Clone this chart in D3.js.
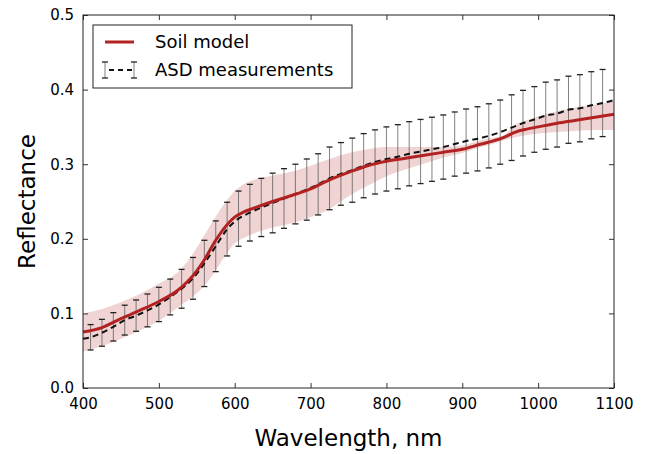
<!DOCTYPE html>
<html>
<head>
<meta charset="utf-8">
<script src="https://cdn.jsdelivr.net/npm/d3@7"></script>
<style>
  body { margin: 0; background: #fff; }
  svg { font-family: "DejaVu Sans", sans-serif; }
</style>
</head>
<body>
<svg id="chart" width="649" height="454"></svg>
<script>
// données
const modelWavelength = [400, 425, 450, 475, 500, 525, 550, 560, 575, 590, 600, 612, 625, 650, 675, 700, 725, 750, 775, 800, 825, 850, 875, 900, 925, 940, 955, 970, 985, 1000, 1025, 1050, 1075, 1100];
const modelReflectance = [0.075, 0.081, 0.093, 0.104, 0.116, 0.131, 0.157, 0.172, 0.198, 0.219, 0.229, 0.236, 0.241, 0.250, 0.258, 0.267, 0.279, 0.289, 0.298, 0.304, 0.308, 0.312, 0.316, 0.320, 0.327, 0.331, 0.336, 0.343, 0.347, 0.350, 0.355, 0.359, 0.363, 0.367];
const modelUpper = [0.100, 0.106, 0.115, 0.126, 0.140, 0.155, 0.188, 0.205, 0.230, 0.252, 0.264, 0.273, 0.279, 0.285, 0.290, 0.298, 0.307, 0.315, 0.320, 0.323, 0.323, 0.323, 0.323, 0.325, 0.332, 0.335, 0.339, 0.353, 0.359, 0.364, 0.371, 0.376, 0.380, 0.384];
const modelLower = [0.049, 0.056, 0.066, 0.077, 0.090, 0.108, 0.127, 0.137, 0.158, 0.181, 0.194, 0.201, 0.207, 0.215, 0.221, 0.229, 0.240, 0.257, 0.271, 0.284, 0.293, 0.301, 0.309, 0.315, 0.323, 0.327, 0.332, 0.336, 0.339, 0.341, 0.343, 0.345, 0.346, 0.346];

const asdWavelength = [400, 410, 425, 440, 455, 470, 485, 500, 515, 530, 545, 560, 575, 590, 605, 620, 635, 650, 665, 680, 695, 710, 725, 740, 755, 770, 785, 800, 815, 830, 845, 860, 875, 890, 905, 920, 935, 950, 965, 980, 995, 1010, 1025, 1040, 1055, 1070, 1085, 1100];
const asdMean = [0.066, 0.068, 0.074, 0.082, 0.091, 0.097, 0.104, 0.112, 0.122, 0.133, 0.147, 0.167, 0.190, 0.213, 0.227, 0.235, 0.242, 0.248, 0.254, 0.260, 0.266, 0.273, 0.281, 0.287, 0.292, 0.298, 0.303, 0.307, 0.310, 0.314, 0.317, 0.320, 0.323, 0.327, 0.331, 0.334, 0.338, 0.343, 0.349, 0.355, 0.360, 0.365, 0.368, 0.373, 0.375, 0.379, 0.382, 0.386];
const asdStd = [null, 0.017, 0.018, 0.019, 0.020, 0.021, 0.022, 0.023, 0.024, 0.026, 0.028, 0.031, 0.034, 0.036, 0.037, 0.038, 0.039, 0.040, 0.040, 0.040, 0.041, 0.041, 0.042, 0.042, 0.043, 0.043, 0.043, 0.043, 0.043, 0.043, 0.043, 0.043, 0.043, 0.043, 0.043, 0.043, 0.043, 0.043, 0.044, 0.044, 0.044, 0.045, 0.045, 0.045, 0.045, 0.045, 0.045, null];

const xTicks = [400, 500, 600, 700, 800, 900, 1000, 1100];
const yTicks = [0.0, 0.1, 0.2, 0.3, 0.4, 0.5];

const seriesNames = ["Soil model", "ASD measurements"];

// tableaux de points
const model = modelWavelength.map((w, i) => ({ w: w, r: modelReflectance[i], lo: modelLower[i], hi: modelUpper[i] }));
const asd = asdWavelength.map((w, i) => ({ w: w, m: asdMean[i], s: asdStd[i] }));

const margin = { top: 15, right: 35, bottom: 66, left: 83 };
const width = 649 - margin.left - margin.right;
const height = 454 - margin.top - margin.bottom;

const svg = d3.select("#chart");
const g = svg.append("g").attr("transform", `translate(${margin.left},${margin.top})`);

const x = d3.scaleLinear().domain([400, 1100]).range([0, width]);
const y = d3.scaleLinear().domain([0, 0.5]).range([height, 0]);

const red = "#b22222";

// bande d'incertitude du modèle
g.append("path")
  .datum(model)
  .attr("fill", red)
  .attr("fill-opacity", 0.2)
  .attr("d", d3.area()
    .x(d => x(d.w))
    .y0(d => y(d.lo))
    .y1(d => y(d.hi))
    .curve(d3.curveMonotoneX));

// barres d'erreur ASD
const bars = asd.filter(d => d.s !== null);
g.selectAll(".ebar")
  .data(bars)
  .enter()
  .append("line")
  .attr("class", "ebar")
  .attr("x1", d => x(d.w))
  .attr("x2", d => x(d.w))
  .attr("y1", d => y(d.m - d.s))
  .attr("y2", d => y(d.m + d.s))
  .attr("stroke", "#555")
  .attr("stroke-opacity", 0.75)
  .attr("stroke-width", 1);

["lo", "hi"].forEach(function(k) {
  g.selectAll(".cap-" + k)
    .data(bars)
    .enter()
    .append("line")
    .attr("class", "cap-" + k)
    .attr("x1", d => x(d.w) - 3)
    .attr("x2", d => x(d.w) + 3)
    .attr("y1", d => y(k === "lo" ? d.m - d.s : d.m + d.s))
    .attr("y2", d => y(k === "lo" ? d.m - d.s : d.m + d.s))
    .attr("stroke", "#222")
    .attr("stroke-width", 1.3);
});

// ligne pointillée ASD
g.append("path")
  .datum(asd)
  .attr("fill", "none")
  .attr("stroke", "#111")
  .attr("stroke-width", 2)
  .attr("stroke-dasharray", "6,4")
  .attr("d", d3.line().x(d => x(d.w)).y(d => y(d.m)).curve(d3.curveMonotoneX));

// ligne du modèle
g.append("path")
  .datum(model)
  .attr("fill", "none")
  .attr("stroke", red)
  .attr("stroke-width", 3)
  .attr("d", d3.line().x(d => x(d.w)).y(d => y(d.r)).curve(d3.curveMonotoneX));

// axes (graduations vers l'intérieur, sur les quatre côtés)
const axisStyle = function(sel) {
  sel.select(".domain").remove();
  sel.selectAll(".tick line").attr("stroke", "#333");
  sel.selectAll(".tick text").attr("fill", "#000").style("font-size", "15px").style("font-family", "DejaVu Sans");
};

g.append("g")
  .attr("transform", `translate(0,${height})`)
  .call(d3.axisBottom(x).tickValues(xTicks).tickFormat(d3.format("d")).tickSizeInner(-5).tickPadding(10))
  .call(axisStyle);

g.append("g")
  .call(d3.axisTop(x).tickValues(xTicks).tickSizeInner(-5).tickFormat(""))
  .call(axisStyle);

g.append("g")
  .call(d3.axisLeft(y).tickValues(yTicks).tickFormat(d3.format(".1f")).tickSizeInner(-5).tickPadding(9))
  .call(axisStyle);

g.append("g")
  .attr("transform", `translate(${width},0)`)
  .call(d3.axisRight(y).tickValues(yTicks).tickSizeInner(-5).tickFormat(""))
  .call(axisStyle);

// cadre
g.append("rect")
  .attr("width", width)
  .attr("height", height)
  .attr("fill", "none")
  .attr("stroke", "#222")
  .attr("stroke-width", 1);

// titres des axes
svg.append("text")
  .attr("x", margin.left + width / 2)
  .attr("y", 446)
  .attr("text-anchor", "middle")
  .style("font-size", "23px")
  .text("Wavelength, nm");

svg.append("text")
  .attr("transform", `translate(35,${margin.top + height / 2}) rotate(-90)`)
  .attr("text-anchor", "middle")
  .style("font-size", "23px")
  .text("Reflectance");

// légende
const legend = svg.append("g").attr("transform", "translate(93,25)");
legend.append("rect")
  .attr("width", 259)
  .attr("height", 63)
  .attr("fill", "#fff")
  .attr("stroke", "#222")
  .attr("stroke-width", 1);

legend.append("line")
  .attr("x1", 12).attr("x2", 41).attr("y1", 17).attr("y2", 17)
  .attr("stroke", red).attr("stroke-width", 3);

legend.append("line")
  .attr("x1", 12).attr("x2", 41).attr("y1", 45).attr("y2", 45)
  .attr("stroke", "#111").attr("stroke-width", 2).attr("stroke-dasharray", "5,4").attr("stroke-dashoffset", -4);

[12, 41].forEach(function(cx) {
  legend.append("line")
    .attr("x1", cx).attr("x2", cx).attr("y1", 37).attr("y2", 53)
    .attr("stroke", "#555").attr("stroke-opacity", 0.75);
  [37, 53].forEach(function(cy) {
    legend.append("line")
      .attr("x1", cx - 3).attr("x2", cx + 3).attr("y1", cy).attr("y2", cy)
      .attr("stroke", "#222").attr("stroke-width", 1.3);
  });
});

legend.selectAll(".lbl")
  .data(seriesNames)
  .enter()
  .append("text")
  .attr("class", "lbl")
  .attr("x", 62)
  .attr("y", (d, i) => 17 + i * 28)
  .attr("dy", "0.35em")
  .style("font-size", "18px")
  .text(d => d);
</script>
</body>
</html>
